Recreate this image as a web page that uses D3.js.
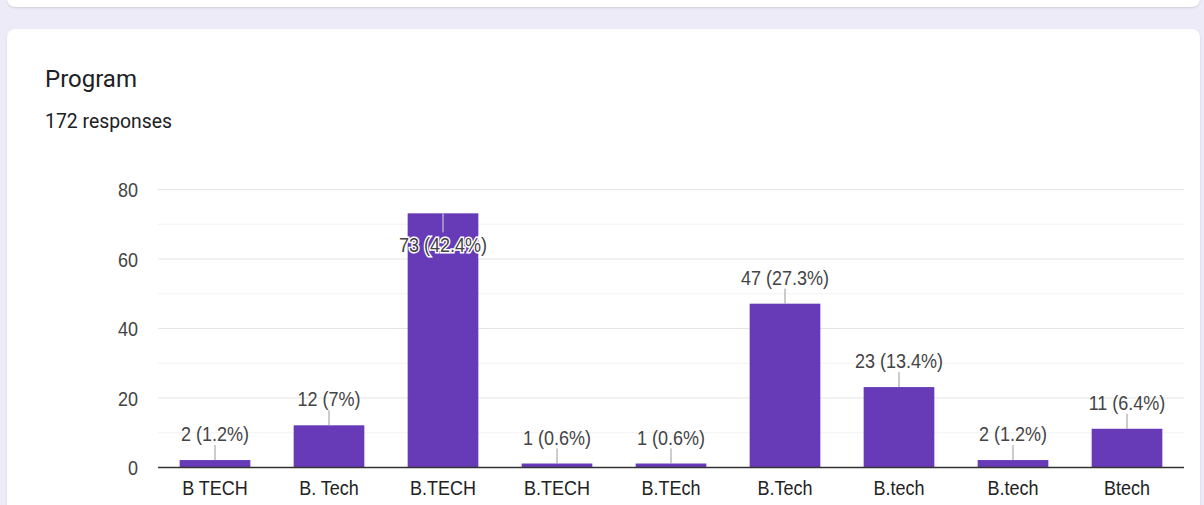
<!DOCTYPE html>
<html>
<head>
<meta charset="utf-8">
<script src="https://cdn.jsdelivr.net/npm/d3@7"></script>
<style>
  html, body { margin: 0; padding: 0; background: #ecebf7; }
  body { width: 1204px; height: 505px; overflow: hidden; position: relative; }
  .card { position: absolute; background: #fff; border-radius: 8px;
          box-shadow: 0 1px 2px rgba(60,64,67,0.16); }
  svg { position: absolute; left: 0; top: 0; }
</style>
</head>
<body>
<div class="card" style="left:7px; top:-20px; width:1193px; height:27px;"></div>
<div class="card" style="left:7px; top:29px; width:1193px; height:500px;"></div>
<svg id="chart" width="1204" height="505"></svg>
<script>
const categories = ["B TECH", "B. Tech", "B.TECH", "B.TECH", "B.TEch", "B.Tech", "B.tech", "B.tech", "Btech"];
const counts = [2, 12, 73, 1, 1, 47, 23, 2, 11];
const percents = ["1.2%", "7%", "42.4%", "0.6%", "0.6%", "27.3%", "13.4%", "1.2%", "6.4%"];
const yTicks = [0, 20, 40, 60, 80];
const yMinorTicks = [10, 30, 50, 70];

const svg = d3.select("#chart");
const font = "Arial, 'Liberation Sans', sans-serif";
const squeeze = 0.9;   // chart labels are set slightly condensed

svg.append("text").attr("x", 45).attr("y", 87)
  .attr("font-family", "Roboto, 'Open Sans', sans-serif").attr("font-size", 24)
  .attr("fill", "#202124").text("Program");
svg.append("text").attr("transform", "translate(45,128) scale(0.97,1)")
  .attr("font-family", "Roboto, sans-serif").attr("font-size", 20)
  .attr("fill", "#202124").text("172 responses");

const plotLeft = 158, plotRight = 1184, plotTop = 189, plotBottom = 467;
const data = categories.map((c, i) => ({ key: i, cat: c, v: counts[i], p: percents[i] }));

const x = d3.scaleBand().domain(data.map(d => d.key)).range([plotLeft, plotRight])
  .paddingInner(0.38).paddingOuter(0.19);
const y = d3.scaleLinear().domain([0, 80]).range([plotBottom, plotTop]);

// gridlines
svg.append("g").selectAll("line").data(yMinorTicks).join("line")
  .attr("x1", plotLeft).attr("x2", plotRight)
  .attr("y1", d => y(d) + 0.5).attr("y2", d => y(d) + 0.5)
  .attr("stroke", "#f2f2f2").attr("stroke-width", 1);
svg.append("g").selectAll("line").data(yTicks.filter(t => t > 0)).join("line")
  .attr("x1", plotLeft).attr("x2", plotRight)
  .attr("y1", d => y(d) + 0.5).attr("y2", d => y(d) + 0.5)
  .attr("stroke", "#e4e4e4").attr("stroke-width", 1);

// y axis labels
const yAxis = d3.axisLeft(y).tickValues(yTicks).tickSize(0).tickPadding(0);
const gy = svg.append("g").attr("transform", `translate(${plotLeft},0)`).call(yAxis);
gy.select(".domain").remove();
gy.selectAll("text").attr("font-family", font).attr("font-size", 20).attr("fill", "#444")
  .attr("x", -20 / squeeze).attr("dy", "0.38em")
  .attr("transform", `scale(${squeeze},1)`);

// bars
svg.append("g").selectAll("rect").data(data).join("rect")
  .attr("x", d => x(d.key)).attr("width", x.bandwidth())
  .attr("y", d => y(d.v)).attr("height", d => plotBottom - y(d.v))
  .attr("fill", "#673ab7");

// baseline
svg.append("line").attr("x1", plotLeft).attr("x2", plotRight)
  .attr("y1", plotBottom + 0.5).attr("y2", plotBottom + 0.5)
  .attr("stroke", "#333").attr("stroke-width", 1.3);

// x axis labels
const xAxis = d3.axisBottom(x).tickFormat(k => categories[k]).tickSize(0).tickPadding(0);
const gx = svg.append("g").attr("transform", `translate(0,${plotBottom})`).call(xAxis);
gx.select(".domain").remove();
gx.selectAll("text").attr("font-family", font).attr("font-size", 20).attr("fill", "#222")
  .attr("y", 28).attr("dy", 0)
  .attr("transform", `scale(${squeeze},1)`);

// value annotations with leader lines
const inside = d => y(d.v) - 28 < plotTop;
const ann = svg.append("g").selectAll("g").data(data).join("g")
  .attr("transform", d => `translate(${x(d.key) + x.bandwidth() / 2},${y(d.v)})`);
ann.append("line")
  .attr("x1", 0).attr("x2", 0)
  .attr("y1", 0).attr("y2", d => inside(d) ? 19 : -15)
  .attr("stroke", d => inside(d) ? "#ddd" : "#999").attr("stroke-width", 1);
ann.append("text")
  .attr("transform", d => `translate(0,${inside(d) ? 39 : -19}) scale(${squeeze},1)`)
  .attr("text-anchor", "middle").attr("font-family", font).attr("font-size", 20)
  .attr("fill", "#444")
  .attr("stroke", d => inside(d) ? "#fff" : "none").attr("stroke-width", 3)
  .attr("paint-order", "stroke")
  .text(d => `${d.v} (${d.p})`);
</script>
</body>
</html>
